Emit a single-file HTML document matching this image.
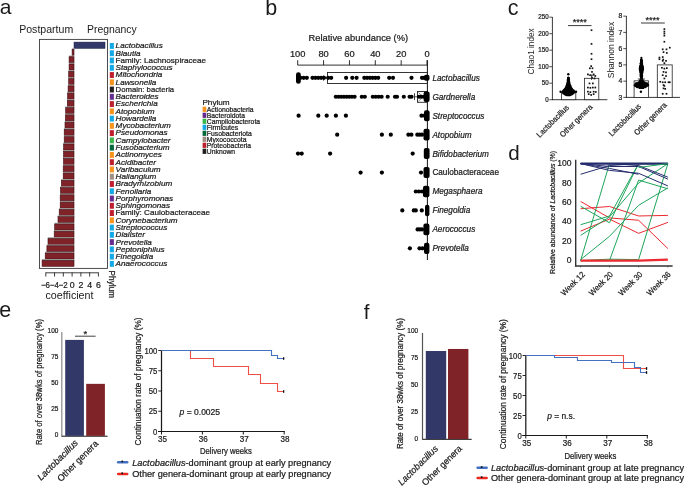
<!DOCTYPE html>
<html><head><meta charset="utf-8"><style>
html,body{margin:0;padding:0;background:#fff;overflow:hidden;width:685px;height:486px;}
svg{display:block;will-change:transform;}
text{font-family:"Liberation Sans",sans-serif;fill:#1a1a1a;}
.s{stroke:#1a1a1a;stroke-width:0.22px;}
</style></head><body>
<svg width="685" height="486" viewBox="0 0 685 486">
<rect width="685" height="486" fill="#fff"/>
<text x="-0.2" y="14.3" font-size="21" fill="#111">a</text>
<text x="265.3" y="14.7" font-size="21.5" fill="#111">b</text>
<text x="507.8" y="14.9" font-size="21.5" fill="#111">c</text>
<text x="508.3" y="159.9" font-size="20.6" fill="#111">d</text>
<text x="-0.8" y="317.1" font-size="21.5" fill="#111">e</text>
<text x="363.8" y="318.6" font-size="20.6" fill="#111">f</text>
<text x="19.2" y="33" font-size="10.4" textLength="54" lengthAdjust="spacingAndGlyphs">Postpartum</text>
<text x="87" y="32.9" font-size="10.4" textLength="49.8" lengthAdjust="spacingAndGlyphs">Pregnancy</text>
<rect x="74" y="42.1" width="31" height="6.3" fill="#323868" stroke="#1b1f40" stroke-width="0.5"/>
<rect x="71.9" y="48.27" width="2.5" height="1" fill="#9a9a9a"/>
<rect x="72.1" y="49.47" width="1.9" height="6" fill="#802328" stroke="#3a0c10" stroke-width="0.6"/>
<rect x="68.9" y="55.54" width="5.5" height="1" fill="#9a9a9a"/>
<rect x="69.1" y="56.74" width="4.9" height="6" fill="#802328" stroke="#3a0c10" stroke-width="0.6"/>
<rect x="68.9" y="62.81" width="5.5" height="1" fill="#9a9a9a"/>
<rect x="69.1" y="64.01" width="4.9" height="6" fill="#802328" stroke="#3a0c10" stroke-width="0.6"/>
<rect x="68.5" y="70.08" width="5.9" height="1" fill="#9a9a9a"/>
<rect x="68.7" y="71.28" width="5.3" height="6" fill="#802328" stroke="#3a0c10" stroke-width="0.6"/>
<rect x="68.5" y="77.35" width="5.9" height="1" fill="#9a9a9a"/>
<rect x="68.7" y="78.55" width="5.3" height="6" fill="#802328" stroke="#3a0c10" stroke-width="0.6"/>
<rect x="67.9" y="84.62" width="6.5" height="1" fill="#9a9a9a"/>
<rect x="68.1" y="85.82" width="5.9" height="6" fill="#802328" stroke="#3a0c10" stroke-width="0.6"/>
<rect x="67.4" y="91.89" width="7" height="1" fill="#9a9a9a"/>
<rect x="67.6" y="93.09" width="6.4" height="6" fill="#802328" stroke="#3a0c10" stroke-width="0.6"/>
<rect x="67.1" y="99.16" width="7.3" height="1" fill="#9a9a9a"/>
<rect x="67.3" y="100.36" width="6.7" height="6" fill="#802328" stroke="#3a0c10" stroke-width="0.6"/>
<rect x="65.5" y="106.43" width="8.9" height="1" fill="#9a9a9a"/>
<rect x="65.7" y="107.63" width="8.3" height="6" fill="#802328" stroke="#3a0c10" stroke-width="0.6"/>
<rect x="65.2" y="113.7" width="9.2" height="1" fill="#9a9a9a"/>
<rect x="65.4" y="114.9" width="8.6" height="6" fill="#802328" stroke="#3a0c10" stroke-width="0.6"/>
<rect x="64.8" y="120.97" width="9.6" height="1" fill="#9a9a9a"/>
<rect x="65" y="122.17" width="9" height="6" fill="#802328" stroke="#3a0c10" stroke-width="0.6"/>
<rect x="64" y="128.24" width="10.4" height="1" fill="#9a9a9a"/>
<rect x="64.2" y="129.44" width="9.8" height="6" fill="#802328" stroke="#3a0c10" stroke-width="0.6"/>
<rect x="64" y="135.51" width="10.4" height="1" fill="#9a9a9a"/>
<rect x="64.2" y="136.71" width="9.8" height="6" fill="#802328" stroke="#3a0c10" stroke-width="0.6"/>
<rect x="63.4" y="142.78" width="11" height="1" fill="#9a9a9a"/>
<rect x="63.6" y="143.98" width="10.4" height="6" fill="#802328" stroke="#3a0c10" stroke-width="0.6"/>
<rect x="63.3" y="150.05" width="11.1" height="1" fill="#9a9a9a"/>
<rect x="63.5" y="151.25" width="10.5" height="6" fill="#802328" stroke="#3a0c10" stroke-width="0.6"/>
<rect x="63.3" y="157.32" width="11.1" height="1" fill="#9a9a9a"/>
<rect x="63.5" y="158.52" width="10.5" height="6" fill="#802328" stroke="#3a0c10" stroke-width="0.6"/>
<rect x="63" y="164.59" width="11.4" height="1" fill="#9a9a9a"/>
<rect x="63.2" y="165.79" width="10.8" height="6" fill="#802328" stroke="#3a0c10" stroke-width="0.6"/>
<rect x="63" y="171.86" width="11.4" height="1" fill="#9a9a9a"/>
<rect x="63.2" y="173.06" width="10.8" height="6" fill="#802328" stroke="#3a0c10" stroke-width="0.6"/>
<rect x="61.2" y="179.13" width="13.2" height="1" fill="#9a9a9a"/>
<rect x="61.4" y="180.33" width="12.6" height="6" fill="#802328" stroke="#3a0c10" stroke-width="0.6"/>
<rect x="60.3" y="186.4" width="14.1" height="1" fill="#9a9a9a"/>
<rect x="60.5" y="187.6" width="13.5" height="6" fill="#802328" stroke="#3a0c10" stroke-width="0.6"/>
<rect x="60" y="193.67" width="14.4" height="1" fill="#9a9a9a"/>
<rect x="60.2" y="194.87" width="13.8" height="6" fill="#802328" stroke="#3a0c10" stroke-width="0.6"/>
<rect x="60" y="200.94" width="14.4" height="1" fill="#9a9a9a"/>
<rect x="60.2" y="202.14" width="13.8" height="6" fill="#802328" stroke="#3a0c10" stroke-width="0.6"/>
<rect x="59" y="208.21" width="15.4" height="1" fill="#9a9a9a"/>
<rect x="59.2" y="209.41" width="14.8" height="6" fill="#802328" stroke="#3a0c10" stroke-width="0.6"/>
<rect x="57.8" y="215.48" width="16.6" height="1" fill="#9a9a9a"/>
<rect x="58" y="216.68" width="16" height="6" fill="#802328" stroke="#3a0c10" stroke-width="0.6"/>
<rect x="54.5" y="222.75" width="19.9" height="1" fill="#9a9a9a"/>
<rect x="54.7" y="223.95" width="19.3" height="6" fill="#802328" stroke="#3a0c10" stroke-width="0.6"/>
<rect x="54" y="230.02" width="20.4" height="1" fill="#9a9a9a"/>
<rect x="54.2" y="231.22" width="19.8" height="6" fill="#802328" stroke="#3a0c10" stroke-width="0.6"/>
<rect x="47.8" y="237.29" width="26.6" height="1" fill="#9a9a9a"/>
<rect x="48" y="238.49" width="26" height="6" fill="#802328" stroke="#3a0c10" stroke-width="0.6"/>
<rect x="46.7" y="244.56" width="27.7" height="1" fill="#9a9a9a"/>
<rect x="46.9" y="245.76" width="27.1" height="6" fill="#802328" stroke="#3a0c10" stroke-width="0.6"/>
<rect x="45" y="251.83" width="29.4" height="1" fill="#9a9a9a"/>
<rect x="45.2" y="253.03" width="28.8" height="6" fill="#802328" stroke="#3a0c10" stroke-width="0.6"/>
<rect x="41.9" y="259.1" width="32.5" height="1" fill="#9a9a9a"/>
<rect x="42.1" y="260.3" width="31.9" height="6" fill="#802328" stroke="#3a0c10" stroke-width="0.6"/>
<rect x="39.5" y="39.4" width="68" height="229" fill="none" stroke="#3a3a3a" stroke-width="0.9"/>
<rect x="109.8" y="43" width="4.1" height="5.9" fill="#12a9e6"/>
<text x="115.6" y="48.25" font-size="8" font-style="italic" textLength="47.12" lengthAdjust="spacingAndGlyphs" class="s">Lactobacillus</text>
<rect x="109.8" y="50.27" width="4.1" height="5.9" fill="#12a9e6"/>
<text x="115.6" y="55.52" font-size="8" font-style="italic" textLength="24.92" lengthAdjust="spacingAndGlyphs" class="s">Blautia</text>
<rect x="109.8" y="57.53" width="4.1" height="5.9" fill="#12a9e6"/>
<text x="115.6" y="62.79" font-size="8" textLength="90.49" lengthAdjust="spacingAndGlyphs" class="s">Family: Lachnospiraceae</text>
<rect x="109.8" y="64.8" width="4.1" height="5.9" fill="#12a9e6"/>
<text x="115.6" y="70.06" font-size="8" font-style="italic" textLength="57.08" lengthAdjust="spacingAndGlyphs" class="s">Staphylococcus</text>
<rect x="109.8" y="72.06" width="4.1" height="5.9" fill="#be1e2d"/>
<text x="115.6" y="77.33" font-size="8" font-style="italic" textLength="46.66" lengthAdjust="spacingAndGlyphs" class="s">Mitochondria</text>
<rect x="109.8" y="79.32" width="4.1" height="5.9" fill="#f7941d"/>
<text x="115.6" y="84.6" font-size="8" font-style="italic" textLength="40.78" lengthAdjust="spacingAndGlyphs" class="s">Lawsonella</text>
<rect x="109.8" y="86.59" width="4.1" height="5.9" fill="#231f20"/>
<text x="115.6" y="91.87" font-size="8" textLength="58.58" lengthAdjust="spacingAndGlyphs" class="s">Domain: bacteria</text>
<rect x="109.8" y="93.85" width="4.1" height="5.9" fill="#662d91"/>
<text x="115.6" y="99.14" font-size="8" font-style="italic" textLength="43.04" lengthAdjust="spacingAndGlyphs" class="s">Bacteroides</text>
<rect x="109.8" y="101.12" width="4.1" height="5.9" fill="#be1e2d"/>
<text x="115.6" y="106.41" font-size="8" font-style="italic" textLength="42.13" lengthAdjust="spacingAndGlyphs" class="s">Escherichia</text>
<rect x="109.8" y="108.38" width="4.1" height="5.9" fill="#f7941d"/>
<text x="115.6" y="113.68" font-size="8" font-style="italic" textLength="38.96" lengthAdjust="spacingAndGlyphs" class="s">Atopobium</text>
<rect x="109.8" y="115.65" width="4.1" height="5.9" fill="#12a9e6"/>
<text x="115.6" y="120.95" font-size="8" font-style="italic" textLength="40.77" lengthAdjust="spacingAndGlyphs" class="s">Howardella</text>
<rect x="109.8" y="122.91" width="4.1" height="5.9" fill="#f7941d"/>
<text x="115.6" y="128.22" font-size="8" font-style="italic" textLength="55.26" lengthAdjust="spacingAndGlyphs" class="s">Mycobacterium</text>
<rect x="109.8" y="130.18" width="4.1" height="5.9" fill="#be1e2d"/>
<text x="115.6" y="135.49" font-size="8" font-style="italic" textLength="52.1" lengthAdjust="spacingAndGlyphs" class="s">Pseudomonas</text>
<rect x="109.8" y="137.44" width="4.1" height="5.9" fill="#39b54a"/>
<text x="115.6" y="142.76" font-size="8" font-style="italic" textLength="54.81" lengthAdjust="spacingAndGlyphs" class="s">Campylobacter</text>
<rect x="109.8" y="144.71" width="4.1" height="5.9" fill="#00693a"/>
<text x="115.6" y="150.03" font-size="8" font-style="italic" textLength="53.9" lengthAdjust="spacingAndGlyphs" class="s">Fusobacterium</text>
<rect x="109.8" y="151.97" width="4.1" height="5.9" fill="#f7941d"/>
<text x="115.6" y="157.3" font-size="8" font-style="italic" textLength="46.2" lengthAdjust="spacingAndGlyphs" class="s">Actinomyces</text>
<rect x="109.8" y="159.24" width="4.1" height="5.9" fill="#be1e2d"/>
<text x="115.6" y="164.57" font-size="8" font-style="italic" textLength="40.32" lengthAdjust="spacingAndGlyphs" class="s">Acidibacter</text>
<rect x="109.8" y="166.5" width="4.1" height="5.9" fill="#f7941d"/>
<text x="115.6" y="171.84" font-size="8" font-style="italic" textLength="45" lengthAdjust="spacingAndGlyphs" class="s">Varibaculum</text>
<rect x="109.8" y="173.77" width="4.1" height="5.9" fill="#a08f84"/>
<text x="115.6" y="179.11" font-size="8" font-style="italic" textLength="40.77" lengthAdjust="spacingAndGlyphs" class="s">Haliangium</text>
<rect x="109.8" y="181.03" width="4.1" height="5.9" fill="#be1e2d"/>
<text x="115.6" y="186.38" font-size="8" font-style="italic" textLength="56.62" lengthAdjust="spacingAndGlyphs" class="s">Bradyrhizobium</text>
<rect x="109.8" y="188.3" width="4.1" height="5.9" fill="#12a9e6"/>
<text x="115.6" y="193.65" font-size="8" font-style="italic" textLength="35.79" lengthAdjust="spacingAndGlyphs" class="s">Fenollaria</text>
<rect x="109.8" y="195.56" width="4.1" height="5.9" fill="#662d91"/>
<text x="115.6" y="200.92" font-size="8" font-style="italic" textLength="57.53" lengthAdjust="spacingAndGlyphs" class="s">Porphyromonas</text>
<rect x="109.8" y="202.83" width="4.1" height="5.9" fill="#be1e2d"/>
<text x="115.6" y="208.19" font-size="8" font-style="italic" textLength="54.37" lengthAdjust="spacingAndGlyphs" class="s">Sphingomonas</text>
<rect x="109.8" y="210.09" width="4.1" height="5.9" fill="#be1e2d"/>
<text x="115.6" y="215.46" font-size="8" textLength="94.56" lengthAdjust="spacingAndGlyphs" class="s">Family: Caulobacteraceae</text>
<rect x="109.8" y="217.36" width="4.1" height="5.9" fill="#f7941d"/>
<text x="115.6" y="222.73" font-size="8" font-style="italic" textLength="62.06" lengthAdjust="spacingAndGlyphs" class="s">Corynebacterium</text>
<rect x="109.8" y="224.62" width="4.1" height="5.9" fill="#12a9e6"/>
<text x="115.6" y="230" font-size="8" font-style="italic" textLength="51.64" lengthAdjust="spacingAndGlyphs" class="s">Streptococcus</text>
<rect x="109.8" y="231.89" width="4.1" height="5.9" fill="#12a9e6"/>
<text x="115.6" y="237.27" font-size="8" font-style="italic" textLength="29.44" lengthAdjust="spacingAndGlyphs" class="s">Dialister</text>
<rect x="109.8" y="239.16" width="4.1" height="5.9" fill="#662d91"/>
<text x="115.6" y="244.54" font-size="8" font-style="italic" textLength="36.24" lengthAdjust="spacingAndGlyphs" class="s">Prevotella</text>
<rect x="109.8" y="246.42" width="4.1" height="5.9" fill="#12a9e6"/>
<text x="115.6" y="251.81" font-size="8" font-style="italic" textLength="48.94" lengthAdjust="spacingAndGlyphs" class="s">Peptoniphilus</text>
<rect x="109.8" y="253.69" width="4.1" height="5.9" fill="#12a9e6"/>
<text x="115.6" y="259.08" font-size="8" font-style="italic" textLength="37.61" lengthAdjust="spacingAndGlyphs" class="s">Finegoldia</text>
<rect x="109.8" y="260.95" width="4.1" height="5.9" fill="#12a9e6"/>
<text x="115.6" y="266.35" font-size="8" font-style="italic" textLength="51.65" lengthAdjust="spacingAndGlyphs" class="s">Anaerococcus</text>
<line x1="45.8" y1="272.8" x2="98.4" y2="272.8" stroke="#2a2a2a" stroke-width="0.9"/>
<line x1="45.8" y1="272.4" x2="45.8" y2="276.6" stroke="#2a2a2a" stroke-width="0.9"/>
<line x1="54.57" y1="272.4" x2="54.57" y2="276.6" stroke="#2a2a2a" stroke-width="0.9"/>
<line x1="63.34" y1="272.4" x2="63.34" y2="276.6" stroke="#2a2a2a" stroke-width="0.9"/>
<line x1="72.11" y1="272.4" x2="72.11" y2="276.6" stroke="#2a2a2a" stroke-width="0.9"/>
<line x1="80.88" y1="272.4" x2="80.88" y2="276.6" stroke="#2a2a2a" stroke-width="0.9"/>
<line x1="89.65" y1="272.4" x2="89.65" y2="276.6" stroke="#2a2a2a" stroke-width="0.9"/>
<line x1="98.42" y1="272.4" x2="98.42" y2="276.6" stroke="#2a2a2a" stroke-width="0.9"/>
<text x="45.5" y="287.7" font-size="8.8" text-anchor="middle" textLength="9" lengthAdjust="spacingAndGlyphs" class="s">−6</text>
<text x="54.27" y="287.7" font-size="8.8" text-anchor="middle" textLength="9" lengthAdjust="spacingAndGlyphs" class="s">−4</text>
<text x="63.04" y="287.7" font-size="8.8" text-anchor="middle" textLength="9" lengthAdjust="spacingAndGlyphs" class="s">−2</text>
<text x="72.11" y="287.7" font-size="8.8" text-anchor="middle" textLength="4.9" lengthAdjust="spacingAndGlyphs" class="s">0</text>
<text x="80.88" y="287.7" font-size="8.8" text-anchor="middle" textLength="4.9" lengthAdjust="spacingAndGlyphs" class="s">2</text>
<text x="89.65" y="287.7" font-size="8.8" text-anchor="middle" textLength="4.9" lengthAdjust="spacingAndGlyphs" class="s">4</text>
<text x="98.42" y="287.7" font-size="8.8" text-anchor="middle" textLength="4.9" lengthAdjust="spacingAndGlyphs" class="s">6</text>
<text x="45.5" y="299.3" font-size="10" textLength="48" lengthAdjust="spacingAndGlyphs">coefficient</text>
<text x="108.6" y="270.6" font-size="8.2" textLength="27.5" lengthAdjust="spacingAndGlyphs" class="s" transform="rotate(90 108.6 270.6)">Phylum</text>
<text x="202.4" y="104.6" font-size="8.1" textLength="27.3" lengthAdjust="spacingAndGlyphs" class="s">Phylum</text>
<rect x="202.6" y="106.7" width="3.7" height="5.2" fill="#f7941d"/>
<text x="206.8" y="111.6" font-size="6.6" textLength="46.86" lengthAdjust="spacingAndGlyphs" class="s">Actionobacteria</text>
<rect x="202.6" y="112.7" width="3.7" height="5.2" fill="#662d91"/>
<text x="206.8" y="117.6" font-size="6.6" textLength="38.17" lengthAdjust="spacingAndGlyphs" class="s">Bacteroidota</text>
<rect x="202.6" y="118.7" width="3.7" height="5.2" fill="#39b54a"/>
<text x="206.8" y="123.6" font-size="6.6" textLength="53.28" lengthAdjust="spacingAndGlyphs" class="s">Campilobacterota</text>
<rect x="202.6" y="124.7" width="3.7" height="5.2" fill="#12a9e6"/>
<text x="206.8" y="129.6" font-size="6.6" textLength="31.35" lengthAdjust="spacingAndGlyphs" class="s">Firmicutes</text>
<rect x="202.6" y="130.7" width="3.7" height="5.2" fill="#00693a"/>
<text x="206.8" y="135.6" font-size="6.6" textLength="44.97" lengthAdjust="spacingAndGlyphs" class="s">Fusobacteriota</text>
<rect x="202.6" y="136.7" width="3.7" height="5.2" fill="#a08f84"/>
<text x="206.8" y="141.6" font-size="6.6" textLength="39.67" lengthAdjust="spacingAndGlyphs" class="s">Myxococcota</text>
<rect x="202.6" y="142.7" width="3.7" height="5.2" fill="#be1e2d"/>
<text x="206.8" y="147.6" font-size="6.6" textLength="44.21" lengthAdjust="spacingAndGlyphs" class="s">Proteobacteria</text>
<rect x="202.6" y="148.7" width="3.7" height="5.2" fill="#231f20"/>
<text x="206.8" y="153.6" font-size="6.6" textLength="28.34" lengthAdjust="spacingAndGlyphs" class="s">Unknown</text>
<text x="308.6" y="41.3" font-size="9.3" textLength="99.5" lengthAdjust="spacingAndGlyphs" class="s">Relative abundance (%)</text>
<line x1="297.7" y1="65.1" x2="427.2" y2="65.1" stroke="#1a1a1a" stroke-width="0.9"/>
<line x1="297.7" y1="60.2" x2="297.7" y2="65.1" stroke="#1a1a1a" stroke-width="0.9"/>
<text x="297.7" y="57.2" font-size="9.3" text-anchor="middle" class="s">100</text>
<line x1="323.57" y1="60.2" x2="323.57" y2="65.1" stroke="#1a1a1a" stroke-width="0.9"/>
<text x="323.57" y="57.2" font-size="9.3" text-anchor="middle" class="s">80</text>
<line x1="349.44" y1="60.2" x2="349.44" y2="65.1" stroke="#1a1a1a" stroke-width="0.9"/>
<text x="349.44" y="57.2" font-size="9.3" text-anchor="middle" class="s">60</text>
<line x1="375.31" y1="60.2" x2="375.31" y2="65.1" stroke="#1a1a1a" stroke-width="0.9"/>
<text x="375.31" y="57.2" font-size="9.3" text-anchor="middle" class="s">40</text>
<line x1="401.18" y1="60.2" x2="401.18" y2="65.1" stroke="#1a1a1a" stroke-width="0.9"/>
<text x="401.18" y="57.2" font-size="9.3" text-anchor="middle" class="s">20</text>
<line x1="427.05" y1="60.2" x2="427.05" y2="65.1" stroke="#1a1a1a" stroke-width="0.9"/>
<text x="427.05" y="57.2" font-size="9.3" text-anchor="middle" class="s">0</text>
<line x1="427.4" y1="60.2" x2="427.4" y2="260" stroke="#111" stroke-width="1"/>
<rect x="327.5" y="72.5" width="99.9" height="11" fill="none" stroke="#222" stroke-width="0.9"/>
<rect x="417.5" y="91.5" width="10" height="10.8" fill="none" stroke="#222" stroke-width="0.9"/>
<line x1="323.6" y1="75.3" x2="323.6" y2="80.7" stroke="#222" stroke-width="0.9"/>
<line x1="323.6" y1="78" x2="327.3" y2="78" stroke="#222" stroke-width="0.8"/>
<line x1="414.5" y1="93.3" x2="414.5" y2="99.9" stroke="#222" stroke-width="0.9"/>
<line x1="414.5" y1="96.8" x2="417.1" y2="96.8" stroke="#222" stroke-width="0.8"/>
<path d="M418.5,92.5 L423,96.8 L418.5,101.2" stroke="#333" stroke-width="0.6" fill="none"/>
<rect x="296.0" y="72.2" width="4.8" height="11.6" rx="2.4" fill="#000"/>
<circle cx="300.5" cy="77.8" r="2.1" fill="#000"/>
<circle cx="303.65" cy="77.8" r="2.1" fill="#000"/>
<circle cx="306.8" cy="77.8" r="2.1" fill="#000"/>
<circle cx="312.5" cy="77.8" r="2.1" fill="#000"/>
<circle cx="315.38" cy="77.8" r="2.1" fill="#000"/>
<circle cx="318.25" cy="77.8" r="2.1" fill="#000"/>
<circle cx="321.12" cy="77.8" r="2.1" fill="#000"/>
<circle cx="324" cy="77.8" r="2.1" fill="#000"/>
<circle cx="328.2" cy="77.8" r="2.1" fill="#000"/>
<circle cx="331.2" cy="77.8" r="2.1" fill="#000"/>
<circle cx="346.1" cy="77.8" r="2.1" fill="#000"/>
<circle cx="352.3" cy="77.8" r="2.1" fill="#000"/>
<circle cx="356.6" cy="77.8" r="2.1" fill="#000"/>
<circle cx="364.3" cy="77.8" r="2.1" fill="#000"/>
<circle cx="367.08" cy="77.8" r="2.1" fill="#000"/>
<circle cx="369.86" cy="77.8" r="2.1" fill="#000"/>
<circle cx="372.64" cy="77.8" r="2.1" fill="#000"/>
<circle cx="375.42" cy="77.8" r="2.1" fill="#000"/>
<circle cx="378.2" cy="77.8" r="2.1" fill="#000"/>
<circle cx="389.2" cy="77.8" r="2.1" fill="#000"/>
<circle cx="393" cy="77.8" r="2.1" fill="#000"/>
<circle cx="411.5" cy="77.8" r="2.1" fill="#000"/>
<circle cx="422" cy="77.8" r="2.1" fill="#000"/>
<circle cx="424" cy="77.8" r="2.1" fill="#000"/>
<circle cx="426" cy="77.8" r="2.1" fill="#000"/>
<rect x="424" y="74.8" width="5.5" height="6" rx="2" fill="#000"/>
<circle cx="335.8" cy="96.75" r="2.1" fill="#000"/>
<circle cx="338.49" cy="96.75" r="2.1" fill="#000"/>
<circle cx="341.17" cy="96.75" r="2.1" fill="#000"/>
<circle cx="343.86" cy="96.75" r="2.1" fill="#000"/>
<circle cx="346.54" cy="96.75" r="2.1" fill="#000"/>
<circle cx="349.23" cy="96.75" r="2.1" fill="#000"/>
<circle cx="351.91" cy="96.75" r="2.1" fill="#000"/>
<circle cx="354.6" cy="96.75" r="2.1" fill="#000"/>
<circle cx="361.8" cy="96.75" r="2.1" fill="#000"/>
<circle cx="364.8" cy="96.75" r="2.1" fill="#000"/>
<circle cx="372.8" cy="96.75" r="2.1" fill="#000"/>
<circle cx="375.73" cy="96.75" r="2.1" fill="#000"/>
<circle cx="378.67" cy="96.75" r="2.1" fill="#000"/>
<circle cx="381.6" cy="96.75" r="2.1" fill="#000"/>
<circle cx="387.7" cy="96.75" r="2.1" fill="#000"/>
<circle cx="395" cy="96.75" r="2.1" fill="#000"/>
<circle cx="397" cy="96.75" r="2.1" fill="#000"/>
<circle cx="403.8" cy="96.75" r="2.1" fill="#000"/>
<circle cx="409.6" cy="96.75" r="2.1" fill="#000"/>
<circle cx="411.5" cy="96.75" r="2.1" fill="#000"/>
<circle cx="419" cy="96.75" r="2.1" fill="#000"/>
<circle cx="421.5" cy="96.75" r="2.1" fill="#000"/>
<circle cx="424" cy="96.75" r="2.1" fill="#000"/>
<rect x="423.6" y="91.5" width="6" height="10.5" rx="2" fill="#000"/>
<circle cx="298.6" cy="115.7" r="2.1" fill="#000"/>
<circle cx="318.3" cy="115.7" r="2.1" fill="#000"/>
<circle cx="326.7" cy="115.7" r="2.1" fill="#000"/>
<circle cx="335.9" cy="115.7" r="2.1" fill="#000"/>
<circle cx="345.9" cy="115.7" r="2.1" fill="#000"/>
<circle cx="421.5" cy="115.7" r="2.1" fill="#000"/>
<circle cx="424.5" cy="115.7" r="2.1" fill="#000"/>
<rect x="424" y="110.2" width="5.6" height="11" rx="2" fill="#000"/>
<circle cx="337.2" cy="134.65" r="2.1" fill="#000"/>
<circle cx="381.9" cy="134.65" r="2.1" fill="#000"/>
<circle cx="390.8" cy="134.65" r="2.1" fill="#000"/>
<circle cx="408.4" cy="134.65" r="2.1" fill="#000"/>
<circle cx="411.4" cy="134.65" r="2.1" fill="#000"/>
<circle cx="417.3" cy="134.65" r="2.1" fill="#000"/>
<circle cx="419.65" cy="134.65" r="2.1" fill="#000"/>
<circle cx="422" cy="134.65" r="2.1" fill="#000"/>
<rect x="423.5" y="128.75" width="6.1" height="11.8" rx="2" fill="#000"/>
<circle cx="298" cy="153.6" r="2.1" fill="#000"/>
<circle cx="301.7" cy="153.6" r="2.1" fill="#000"/>
<circle cx="330.1" cy="153.6" r="2.1" fill="#000"/>
<circle cx="412.7" cy="153.6" r="2.1" fill="#000"/>
<rect x="423.8" y="148.1" width="5.8" height="11" rx="2" fill="#000"/>
<circle cx="360.6" cy="172.55" r="2.1" fill="#000"/>
<circle cx="381.9" cy="172.55" r="2.1" fill="#000"/>
<circle cx="421" cy="172.55" r="2.1" fill="#000"/>
<rect x="423.5" y="167" width="6.1" height="11.1" rx="2" fill="#000"/>
<circle cx="415.8" cy="191.5" r="2.1" fill="#000"/>
<circle cx="418.9" cy="191.5" r="2.1" fill="#000"/>
<circle cx="422" cy="191.5" r="2.1" fill="#000"/>
<rect x="423" y="185.7" width="6.4" height="11.6" rx="2" fill="#000"/>
<circle cx="402.3" cy="210.45" r="2.1" fill="#000"/>
<circle cx="421.8" cy="210.45" r="2.1" fill="#000"/>
<circle cx="413.8" cy="210.45" r="2.1" fill="#000"/>
<circle cx="415.8" cy="210.45" r="2.1" fill="#000"/>
<rect x="425" y="204.65" width="4.4" height="11.6" rx="2" fill="#000"/>
<circle cx="417.6" cy="229.4" r="2.1" fill="#000"/>
<circle cx="419.8" cy="229.4" r="2.1" fill="#000"/>
<circle cx="422" cy="229.4" r="2.1" fill="#000"/>
<rect x="423.4" y="223.6" width="6" height="11.6" rx="2" fill="#000"/>
<circle cx="409.9" cy="248.35" r="2.1" fill="#000"/>
<circle cx="419.5" cy="248.35" r="2.1" fill="#000"/>
<circle cx="422.5" cy="248.35" r="2.1" fill="#000"/>
<rect x="424" y="242.65" width="5.4" height="11.4" rx="2" fill="#000"/>
<text x="432.4" y="80.7" font-size="8.2" font-style="italic" textLength="47.41" lengthAdjust="spacingAndGlyphs" class="s">Lactobacillus</text>
<text x="432.4" y="99.65" font-size="8.2" font-style="italic" textLength="42.85" lengthAdjust="spacingAndGlyphs" class="s">Gardnerella</text>
<text x="432.4" y="118.6" font-size="8.2" font-style="italic" textLength="51.96" lengthAdjust="spacingAndGlyphs" class="s">Streptococcus</text>
<text x="432.4" y="137.55" font-size="8.2" font-style="italic" textLength="39.2" lengthAdjust="spacingAndGlyphs" class="s">Atopobium</text>
<text x="432.4" y="156.5" font-size="8.2" font-style="italic" textLength="56.52" lengthAdjust="spacingAndGlyphs" class="s">Bifidobacterium</text>
<text x="432.4" y="175.45" font-size="8.2" textLength="66.56" lengthAdjust="spacingAndGlyphs" class="s">Caulobacteraceae</text>
<text x="432.4" y="194.4" font-size="8.2" font-style="italic" textLength="50.15" lengthAdjust="spacingAndGlyphs" class="s">Megasphaera</text>
<text x="432.4" y="213.35" font-size="8.2" font-style="italic" textLength="37.84" lengthAdjust="spacingAndGlyphs" class="s">Finegoldia</text>
<text x="432.4" y="232.3" font-size="8.2" font-style="italic" textLength="42.84" lengthAdjust="spacingAndGlyphs" class="s">Aerococcus</text>
<text x="432.4" y="251.25" font-size="8.2" font-style="italic" textLength="36.46" lengthAdjust="spacingAndGlyphs" class="s">Prevotella</text>
<line x1="552.4" y1="17" x2="552.4" y2="100.1" stroke="#222" stroke-width="0.9"/>
<line x1="552" y1="99.7" x2="607.4" y2="99.7" stroke="#222" stroke-width="0.9"/>
<line x1="549.3" y1="99.7" x2="552.4" y2="99.7" stroke="#222" stroke-width="0.8"/>
<text x="548.6" y="101.9" font-size="6.4" text-anchor="end" textLength="3.45" lengthAdjust="spacingAndGlyphs" class="s">0</text>
<line x1="549.3" y1="83.2" x2="552.4" y2="83.2" stroke="#222" stroke-width="0.8"/>
<text x="548.6" y="85.4" font-size="6.4" text-anchor="end" textLength="6.9" lengthAdjust="spacingAndGlyphs" class="s">50</text>
<line x1="549.3" y1="66.7" x2="552.4" y2="66.7" stroke="#222" stroke-width="0.8"/>
<text x="548.6" y="68.9" font-size="6.4" text-anchor="end" textLength="10.35" lengthAdjust="spacingAndGlyphs" class="s">100</text>
<line x1="549.3" y1="50.2" x2="552.4" y2="50.2" stroke="#222" stroke-width="0.8"/>
<text x="548.6" y="52.4" font-size="6.4" text-anchor="end" textLength="10.35" lengthAdjust="spacingAndGlyphs" class="s">150</text>
<line x1="549.3" y1="33.7" x2="552.4" y2="33.7" stroke="#222" stroke-width="0.8"/>
<text x="548.6" y="35.9" font-size="6.4" text-anchor="end" textLength="10.35" lengthAdjust="spacingAndGlyphs" class="s">200</text>
<line x1="549.3" y1="17.2" x2="552.4" y2="17.2" stroke="#222" stroke-width="0.8"/>
<text x="548.6" y="19.4" font-size="6.4" text-anchor="end" textLength="10.35" lengthAdjust="spacingAndGlyphs" class="s">250</text>
<text x="534.2" y="51.4" font-size="9.6" text-anchor="middle" textLength="46" lengthAdjust="spacingAndGlyphs" transform="rotate(-90 534.2 51.4)">Chao1 index</text>
<rect x="561.4" y="92.11" width="14.4" height="7.59" fill="#fff" stroke="#222" stroke-width="0.8"/>
<rect x="584.4" y="78.3" width="14.4" height="21.4" fill="#fff" stroke="#222" stroke-width="0.8"/>
<circle cx="568.24" cy="78" r="1.25" fill="#000"/>
<circle cx="568.43" cy="78" r="1.25" fill="#000"/>
<circle cx="568.32" cy="78" r="1.25" fill="#000"/>
<circle cx="568.37" cy="78.9" r="1.25" fill="#000"/>
<circle cx="568.48" cy="78.9" r="1.25" fill="#000"/>
<circle cx="568.23" cy="78.9" r="1.25" fill="#000"/>
<circle cx="567.93" cy="79.8" r="1.25" fill="#000"/>
<circle cx="568.6" cy="79.8" r="1.25" fill="#000"/>
<circle cx="568.44" cy="79.8" r="1.25" fill="#000"/>
<circle cx="567.97" cy="80.7" r="1.25" fill="#000"/>
<circle cx="568.7" cy="80.7" r="1.25" fill="#000"/>
<circle cx="568.65" cy="80.7" r="1.25" fill="#000"/>
<circle cx="568.22" cy="81.6" r="1.25" fill="#000"/>
<circle cx="568.39" cy="81.6" r="1.25" fill="#000"/>
<circle cx="568.86" cy="81.6" r="1.25" fill="#000"/>
<circle cx="567.69" cy="82.5" r="1.25" fill="#000"/>
<circle cx="568.48" cy="82.5" r="1.25" fill="#000"/>
<circle cx="569.12" cy="82.5" r="1.25" fill="#000"/>
<circle cx="567.79" cy="83.4" r="1.25" fill="#000"/>
<circle cx="568.54" cy="83.4" r="1.25" fill="#000"/>
<circle cx="569.12" cy="83.4" r="1.25" fill="#000"/>
<circle cx="567.31" cy="84.3" r="1.25" fill="#000"/>
<circle cx="568.55" cy="84.3" r="1.25" fill="#000"/>
<circle cx="569.28" cy="84.3" r="1.25" fill="#000"/>
<circle cx="567.06" cy="85.2" r="1.25" fill="#000"/>
<circle cx="568.12" cy="85.2" r="1.25" fill="#000"/>
<circle cx="569.84" cy="85.2" r="1.25" fill="#000"/>
<circle cx="566.77" cy="86.1" r="1.25" fill="#000"/>
<circle cx="568.53" cy="86.1" r="1.25" fill="#000"/>
<circle cx="570.24" cy="86.1" r="1.25" fill="#000"/>
<circle cx="566.53" cy="87" r="1.25" fill="#000"/>
<circle cx="567.65" cy="87" r="1.25" fill="#000"/>
<circle cx="568.34" cy="87" r="1.25" fill="#000"/>
<circle cx="569.58" cy="87" r="1.25" fill="#000"/>
<circle cx="570.37" cy="87" r="1.25" fill="#000"/>
<circle cx="566.01" cy="87.9" r="1.25" fill="#000"/>
<circle cx="567.3" cy="87.9" r="1.25" fill="#000"/>
<circle cx="568.16" cy="87.9" r="1.25" fill="#000"/>
<circle cx="569.51" cy="87.9" r="1.25" fill="#000"/>
<circle cx="570.88" cy="87.9" r="1.25" fill="#000"/>
<circle cx="565.38" cy="88.8" r="1.25" fill="#000"/>
<circle cx="566.16" cy="88.8" r="1.25" fill="#000"/>
<circle cx="567.38" cy="88.8" r="1.25" fill="#000"/>
<circle cx="568.28" cy="88.8" r="1.25" fill="#000"/>
<circle cx="569.5" cy="88.8" r="1.25" fill="#000"/>
<circle cx="570.53" cy="88.8" r="1.25" fill="#000"/>
<circle cx="571.61" cy="88.8" r="1.25" fill="#000"/>
<circle cx="564.47" cy="89.7" r="1.25" fill="#000"/>
<circle cx="565.47" cy="89.7" r="1.25" fill="#000"/>
<circle cx="566.65" cy="89.7" r="1.25" fill="#000"/>
<circle cx="567.51" cy="89.7" r="1.25" fill="#000"/>
<circle cx="568.66" cy="89.7" r="1.25" fill="#000"/>
<circle cx="569.61" cy="89.7" r="1.25" fill="#000"/>
<circle cx="570.68" cy="89.7" r="1.25" fill="#000"/>
<circle cx="571.49" cy="89.7" r="1.25" fill="#000"/>
<circle cx="572.18" cy="89.7" r="1.25" fill="#000"/>
<circle cx="563.83" cy="90.6" r="1.25" fill="#000"/>
<circle cx="564.85" cy="90.6" r="1.25" fill="#000"/>
<circle cx="565.77" cy="90.6" r="1.25" fill="#000"/>
<circle cx="566.53" cy="90.6" r="1.25" fill="#000"/>
<circle cx="567.57" cy="90.6" r="1.25" fill="#000"/>
<circle cx="568.23" cy="90.6" r="1.25" fill="#000"/>
<circle cx="569.56" cy="90.6" r="1.25" fill="#000"/>
<circle cx="570.36" cy="90.6" r="1.25" fill="#000"/>
<circle cx="571.14" cy="90.6" r="1.25" fill="#000"/>
<circle cx="571.97" cy="90.6" r="1.25" fill="#000"/>
<circle cx="573.4" cy="90.6" r="1.25" fill="#000"/>
<circle cx="563.09" cy="91.5" r="1.25" fill="#000"/>
<circle cx="563.49" cy="91.5" r="1.25" fill="#000"/>
<circle cx="564.85" cy="91.5" r="1.25" fill="#000"/>
<circle cx="565.55" cy="91.5" r="1.25" fill="#000"/>
<circle cx="566.32" cy="91.5" r="1.25" fill="#000"/>
<circle cx="567.34" cy="91.5" r="1.25" fill="#000"/>
<circle cx="568.56" cy="91.5" r="1.25" fill="#000"/>
<circle cx="569.56" cy="91.5" r="1.25" fill="#000"/>
<circle cx="569.99" cy="91.5" r="1.25" fill="#000"/>
<circle cx="571.27" cy="91.5" r="1.25" fill="#000"/>
<circle cx="571.86" cy="91.5" r="1.25" fill="#000"/>
<circle cx="573.2" cy="91.5" r="1.25" fill="#000"/>
<circle cx="573.9" cy="91.5" r="1.25" fill="#000"/>
<circle cx="563.39" cy="92.4" r="1.25" fill="#000"/>
<circle cx="564.5" cy="92.4" r="1.25" fill="#000"/>
<circle cx="565.26" cy="92.4" r="1.25" fill="#000"/>
<circle cx="566.6" cy="92.4" r="1.25" fill="#000"/>
<circle cx="567.24" cy="92.4" r="1.25" fill="#000"/>
<circle cx="568.15" cy="92.4" r="1.25" fill="#000"/>
<circle cx="569.51" cy="92.4" r="1.25" fill="#000"/>
<circle cx="570.21" cy="92.4" r="1.25" fill="#000"/>
<circle cx="571.36" cy="92.4" r="1.25" fill="#000"/>
<circle cx="572.54" cy="92.4" r="1.25" fill="#000"/>
<circle cx="573.71" cy="92.4" r="1.25" fill="#000"/>
<circle cx="563.59" cy="93.3" r="1.25" fill="#000"/>
<circle cx="564.45" cy="93.3" r="1.25" fill="#000"/>
<circle cx="565.86" cy="93.3" r="1.25" fill="#000"/>
<circle cx="566.45" cy="93.3" r="1.25" fill="#000"/>
<circle cx="567.76" cy="93.3" r="1.25" fill="#000"/>
<circle cx="568.64" cy="93.3" r="1.25" fill="#000"/>
<circle cx="569.25" cy="93.3" r="1.25" fill="#000"/>
<circle cx="570.22" cy="93.3" r="1.25" fill="#000"/>
<circle cx="571.17" cy="93.3" r="1.25" fill="#000"/>
<circle cx="572.17" cy="93.3" r="1.25" fill="#000"/>
<circle cx="573.06" cy="93.3" r="1.25" fill="#000"/>
<circle cx="565.04" cy="94.2" r="1.25" fill="#000"/>
<circle cx="566.21" cy="94.2" r="1.25" fill="#000"/>
<circle cx="567.53" cy="94.2" r="1.25" fill="#000"/>
<circle cx="568.4" cy="94.2" r="1.25" fill="#000"/>
<circle cx="569.49" cy="94.2" r="1.25" fill="#000"/>
<circle cx="570.8" cy="94.2" r="1.25" fill="#000"/>
<circle cx="571.64" cy="94.2" r="1.25" fill="#000"/>
<circle cx="566.41" cy="95.1" r="1.25" fill="#000"/>
<circle cx="567.75" cy="95.1" r="1.25" fill="#000"/>
<circle cx="568.41" cy="95.1" r="1.25" fill="#000"/>
<circle cx="569.37" cy="95.1" r="1.25" fill="#000"/>
<circle cx="569.98" cy="95.1" r="1.25" fill="#000"/>
<circle cx="568.3" cy="74.3" r="1.2" fill="#000"/>
<circle cx="560.6" cy="91.8" r="1.2" fill="#000"/>
<circle cx="576" cy="91.8" r="1.2" fill="#000"/>
<rect x="590.66" y="29.36" width="1.7" height="1.7" fill="#111"/>
<rect x="590.66" y="43.04" width="1.7" height="1.7" fill="#111"/>
<rect x="590.66" y="52.92" width="1.7" height="1.7" fill="#111"/>
<rect x="590.66" y="58.36" width="1.7" height="1.7" fill="#111"/>
<rect x="590.33" y="65.28" width="1.7" height="1.7" fill="#111"/>
<rect x="589.01" y="67.42" width="1.7" height="1.7" fill="#111"/>
<rect x="591.65" y="67.42" width="1.7" height="1.7" fill="#111"/>
<rect x="591.15" y="71.04" width="1.7" height="1.7" fill="#111"/>
<rect x="587.03" y="73.52" width="1.7" height="1.7" fill="#111"/>
<rect x="589.51" y="74.34" width="1.7" height="1.7" fill="#111"/>
<rect x="592.8" y="73.52" width="1.7" height="1.7" fill="#111"/>
<rect x="594.45" y="75.16" width="1.7" height="1.7" fill="#111"/>
<rect x="591.15" y="76.81" width="1.7" height="1.7" fill="#111"/>
<rect x="593.62" y="77.63" width="1.7" height="1.7" fill="#111"/>
<rect x="588.68" y="82.58" width="1.7" height="1.7" fill="#111"/>
<rect x="591.98" y="82.58" width="1.7" height="1.7" fill="#111"/>
<rect x="587.03" y="86.7" width="1.7" height="1.7" fill="#111"/>
<rect x="589.51" y="87.02" width="1.7" height="1.7" fill="#111"/>
<rect x="591.98" y="86.7" width="1.7" height="1.7" fill="#111"/>
<rect x="594.45" y="86.7" width="1.7" height="1.7" fill="#111"/>
<rect x="587.03" y="90.81" width="1.7" height="1.7" fill="#111"/>
<rect x="589.51" y="91.31" width="1.7" height="1.7" fill="#111"/>
<rect x="592.8" y="90.81" width="1.7" height="1.7" fill="#111"/>
<rect x="594.94" y="91.14" width="1.7" height="1.7" fill="#111"/>
<rect x="587.86" y="93.29" width="1.7" height="1.7" fill="#111"/>
<rect x="590.33" y="94.11" width="1.7" height="1.7" fill="#111"/>
<rect x="592.8" y="93.29" width="1.7" height="1.7" fill="#111"/>
<line x1="588.5" y1="75.2" x2="594.5" y2="75.2" stroke="#222" stroke-width="0.8"/>
<line x1="591.6" y1="75.2" x2="591.6" y2="80" stroke="#222" stroke-width="0.8"/>
<line x1="568" y1="25.6" x2="591.5" y2="25.6" stroke="#222" stroke-width="0.9"/>
<text x="579.8" y="25.2" font-size="9.2" text-anchor="middle" textLength="14.2" lengthAdjust="spacingAndGlyphs" class="s">****</text>
<line x1="626.4" y1="16" x2="626.4" y2="97.8" stroke="#222" stroke-width="0.9"/>
<line x1="626" y1="97.4" x2="680" y2="97.4" stroke="#222" stroke-width="0.9"/>
<line x1="623.3" y1="97.4" x2="626.4" y2="97.4" stroke="#222" stroke-width="0.8"/>
<text x="622.4" y="99.7" font-size="6.6" text-anchor="end" textLength="3.8" lengthAdjust="spacingAndGlyphs" class="s">3</text>
<line x1="623.3" y1="81.15" x2="626.4" y2="81.15" stroke="#222" stroke-width="0.8"/>
<text x="622.4" y="83.45" font-size="6.6" text-anchor="end" textLength="3.8" lengthAdjust="spacingAndGlyphs" class="s">4</text>
<line x1="623.3" y1="64.9" x2="626.4" y2="64.9" stroke="#222" stroke-width="0.8"/>
<text x="622.4" y="67.2" font-size="6.6" text-anchor="end" textLength="3.8" lengthAdjust="spacingAndGlyphs" class="s">5</text>
<line x1="623.3" y1="48.65" x2="626.4" y2="48.65" stroke="#222" stroke-width="0.8"/>
<text x="622.4" y="50.95" font-size="6.6" text-anchor="end" textLength="3.8" lengthAdjust="spacingAndGlyphs" class="s">6</text>
<line x1="623.3" y1="32.4" x2="626.4" y2="32.4" stroke="#222" stroke-width="0.8"/>
<text x="622.4" y="34.7" font-size="6.6" text-anchor="end" textLength="3.8" lengthAdjust="spacingAndGlyphs" class="s">7</text>
<line x1="623.3" y1="16.15" x2="626.4" y2="16.15" stroke="#222" stroke-width="0.8"/>
<text x="622.4" y="18.45" font-size="6.6" text-anchor="end" textLength="3.8" lengthAdjust="spacingAndGlyphs" class="s">8</text>
<text x="614.4" y="50" font-size="9.6" text-anchor="middle" textLength="56.5" lengthAdjust="spacingAndGlyphs" transform="rotate(-90 614.4 50)">Shannon index</text>
<rect x="634.1" y="80.83" width="14.5" height="16.57" fill="#fff" stroke="#222" stroke-width="0.8"/>
<rect x="657.3" y="64.9" width="14.9" height="32.5" fill="#fff" stroke="#222" stroke-width="0.8"/>
<circle cx="641.34" cy="60" r="1.2" fill="#000"/>
<circle cx="641.46" cy="60" r="1.2" fill="#000"/>
<circle cx="641.06" cy="60" r="1.2" fill="#000"/>
<circle cx="641.42" cy="60.9" r="1.2" fill="#000"/>
<circle cx="641.49" cy="60.9" r="1.2" fill="#000"/>
<circle cx="641.15" cy="60.9" r="1.2" fill="#000"/>
<circle cx="641.37" cy="61.8" r="1.2" fill="#000"/>
<circle cx="641.38" cy="61.8" r="1.2" fill="#000"/>
<circle cx="641.65" cy="61.8" r="1.2" fill="#000"/>
<circle cx="641.12" cy="62.7" r="1.2" fill="#000"/>
<circle cx="641.54" cy="62.7" r="1.2" fill="#000"/>
<circle cx="641.75" cy="62.7" r="1.2" fill="#000"/>
<circle cx="640.73" cy="63.6" r="1.2" fill="#000"/>
<circle cx="641.09" cy="63.6" r="1.2" fill="#000"/>
<circle cx="641.86" cy="63.6" r="1.2" fill="#000"/>
<circle cx="641.17" cy="64.5" r="1.2" fill="#000"/>
<circle cx="641.23" cy="64.5" r="1.2" fill="#000"/>
<circle cx="641.92" cy="64.5" r="1.2" fill="#000"/>
<circle cx="640.7" cy="65.4" r="1.2" fill="#000"/>
<circle cx="641.27" cy="65.4" r="1.2" fill="#000"/>
<circle cx="642.06" cy="65.4" r="1.2" fill="#000"/>
<circle cx="640.33" cy="66.3" r="1.2" fill="#000"/>
<circle cx="641.31" cy="66.3" r="1.2" fill="#000"/>
<circle cx="642.41" cy="66.3" r="1.2" fill="#000"/>
<circle cx="640.2" cy="67.2" r="1.2" fill="#000"/>
<circle cx="641.31" cy="67.2" r="1.2" fill="#000"/>
<circle cx="642.65" cy="67.2" r="1.2" fill="#000"/>
<circle cx="639.89" cy="68.1" r="1.2" fill="#000"/>
<circle cx="641.45" cy="68.1" r="1.2" fill="#000"/>
<circle cx="642.74" cy="68.1" r="1.2" fill="#000"/>
<circle cx="639.97" cy="69" r="1.2" fill="#000"/>
<circle cx="641.21" cy="69" r="1.2" fill="#000"/>
<circle cx="642.91" cy="69" r="1.2" fill="#000"/>
<circle cx="640.04" cy="69.9" r="1.2" fill="#000"/>
<circle cx="641.18" cy="69.9" r="1.2" fill="#000"/>
<circle cx="642.53" cy="69.9" r="1.2" fill="#000"/>
<circle cx="640.48" cy="70.8" r="1.2" fill="#000"/>
<circle cx="641.12" cy="70.8" r="1.2" fill="#000"/>
<circle cx="642.34" cy="70.8" r="1.2" fill="#000"/>
<circle cx="640.34" cy="71.7" r="1.2" fill="#000"/>
<circle cx="641.63" cy="71.7" r="1.2" fill="#000"/>
<circle cx="642.3" cy="71.7" r="1.2" fill="#000"/>
<circle cx="640.89" cy="72.6" r="1.2" fill="#000"/>
<circle cx="641.17" cy="72.6" r="1.2" fill="#000"/>
<circle cx="642.05" cy="72.6" r="1.2" fill="#000"/>
<circle cx="640.96" cy="73.5" r="1.2" fill="#000"/>
<circle cx="641.67" cy="73.5" r="1.2" fill="#000"/>
<circle cx="641.92" cy="73.5" r="1.2" fill="#000"/>
<circle cx="640.87" cy="74.4" r="1.2" fill="#000"/>
<circle cx="641.13" cy="74.4" r="1.2" fill="#000"/>
<circle cx="641.76" cy="74.4" r="1.2" fill="#000"/>
<circle cx="640.98" cy="75.3" r="1.2" fill="#000"/>
<circle cx="641.61" cy="75.3" r="1.2" fill="#000"/>
<circle cx="641.84" cy="75.3" r="1.2" fill="#000"/>
<circle cx="640.98" cy="76.2" r="1.2" fill="#000"/>
<circle cx="641.25" cy="76.2" r="1.2" fill="#000"/>
<circle cx="641.82" cy="76.2" r="1.2" fill="#000"/>
<circle cx="641.3" cy="77.1" r="1.2" fill="#000"/>
<circle cx="641.61" cy="77.1" r="1.2" fill="#000"/>
<circle cx="641.49" cy="77.1" r="1.2" fill="#000"/>
<circle cx="640.94" cy="78" r="1.2" fill="#000"/>
<circle cx="641.25" cy="78" r="1.2" fill="#000"/>
<circle cx="641.81" cy="78" r="1.2" fill="#000"/>
<circle cx="641.04" cy="78.9" r="1.2" fill="#000"/>
<circle cx="641.29" cy="78.9" r="1.2" fill="#000"/>
<circle cx="641.54" cy="78.9" r="1.2" fill="#000"/>
<circle cx="640.8" cy="79.8" r="1.2" fill="#000"/>
<circle cx="641.34" cy="79.8" r="1.2" fill="#000"/>
<circle cx="642.24" cy="79.8" r="1.2" fill="#000"/>
<circle cx="640.22" cy="80.7" r="1.2" fill="#000"/>
<circle cx="641.05" cy="80.7" r="1.2" fill="#000"/>
<circle cx="642.65" cy="80.7" r="1.2" fill="#000"/>
<circle cx="640.34" cy="81.6" r="1.2" fill="#000"/>
<circle cx="641.74" cy="81.6" r="1.2" fill="#000"/>
<circle cx="642.68" cy="81.6" r="1.2" fill="#000"/>
<circle cx="638.88" cy="82.5" r="1.2" fill="#000"/>
<circle cx="639.81" cy="82.5" r="1.2" fill="#000"/>
<circle cx="640.26" cy="82.5" r="1.2" fill="#000"/>
<circle cx="641.57" cy="82.5" r="1.2" fill="#000"/>
<circle cx="642.58" cy="82.5" r="1.2" fill="#000"/>
<circle cx="643.4" cy="82.5" r="1.2" fill="#000"/>
<circle cx="644.25" cy="82.5" r="1.2" fill="#000"/>
<circle cx="636.02" cy="83.4" r="1.2" fill="#000"/>
<circle cx="637.1" cy="83.4" r="1.2" fill="#000"/>
<circle cx="638.07" cy="83.4" r="1.2" fill="#000"/>
<circle cx="639" cy="83.4" r="1.2" fill="#000"/>
<circle cx="640.42" cy="83.4" r="1.2" fill="#000"/>
<circle cx="641.25" cy="83.4" r="1.2" fill="#000"/>
<circle cx="642.66" cy="83.4" r="1.2" fill="#000"/>
<circle cx="643.17" cy="83.4" r="1.2" fill="#000"/>
<circle cx="644.82" cy="83.4" r="1.2" fill="#000"/>
<circle cx="645.72" cy="83.4" r="1.2" fill="#000"/>
<circle cx="646.93" cy="83.4" r="1.2" fill="#000"/>
<circle cx="635.82" cy="84.3" r="1.2" fill="#000"/>
<circle cx="636.8" cy="84.3" r="1.2" fill="#000"/>
<circle cx="637.55" cy="84.3" r="1.2" fill="#000"/>
<circle cx="638.13" cy="84.3" r="1.2" fill="#000"/>
<circle cx="639.62" cy="84.3" r="1.2" fill="#000"/>
<circle cx="640.19" cy="84.3" r="1.2" fill="#000"/>
<circle cx="641.26" cy="84.3" r="1.2" fill="#000"/>
<circle cx="642.49" cy="84.3" r="1.2" fill="#000"/>
<circle cx="643.37" cy="84.3" r="1.2" fill="#000"/>
<circle cx="644.27" cy="84.3" r="1.2" fill="#000"/>
<circle cx="645.61" cy="84.3" r="1.2" fill="#000"/>
<circle cx="646.36" cy="84.3" r="1.2" fill="#000"/>
<circle cx="647.15" cy="84.3" r="1.2" fill="#000"/>
<circle cx="634.96" cy="85.2" r="1.2" fill="#000"/>
<circle cx="636.43" cy="85.2" r="1.2" fill="#000"/>
<circle cx="637.21" cy="85.2" r="1.2" fill="#000"/>
<circle cx="638.47" cy="85.2" r="1.2" fill="#000"/>
<circle cx="639.21" cy="85.2" r="1.2" fill="#000"/>
<circle cx="640.14" cy="85.2" r="1.2" fill="#000"/>
<circle cx="641.42" cy="85.2" r="1.2" fill="#000"/>
<circle cx="642.67" cy="85.2" r="1.2" fill="#000"/>
<circle cx="643.26" cy="85.2" r="1.2" fill="#000"/>
<circle cx="644.74" cy="85.2" r="1.2" fill="#000"/>
<circle cx="645.87" cy="85.2" r="1.2" fill="#000"/>
<circle cx="646.84" cy="85.2" r="1.2" fill="#000"/>
<circle cx="647.89" cy="85.2" r="1.2" fill="#000"/>
<circle cx="635.62" cy="86.1" r="1.2" fill="#000"/>
<circle cx="636.96" cy="86.1" r="1.2" fill="#000"/>
<circle cx="638.03" cy="86.1" r="1.2" fill="#000"/>
<circle cx="638.36" cy="86.1" r="1.2" fill="#000"/>
<circle cx="639.43" cy="86.1" r="1.2" fill="#000"/>
<circle cx="640.33" cy="86.1" r="1.2" fill="#000"/>
<circle cx="641.42" cy="86.1" r="1.2" fill="#000"/>
<circle cx="642.25" cy="86.1" r="1.2" fill="#000"/>
<circle cx="643.19" cy="86.1" r="1.2" fill="#000"/>
<circle cx="644.31" cy="86.1" r="1.2" fill="#000"/>
<circle cx="644.68" cy="86.1" r="1.2" fill="#000"/>
<circle cx="645.62" cy="86.1" r="1.2" fill="#000"/>
<circle cx="646.58" cy="86.1" r="1.2" fill="#000"/>
<circle cx="637.14" cy="87" r="1.2" fill="#000"/>
<circle cx="638.1" cy="87" r="1.2" fill="#000"/>
<circle cx="639.73" cy="87" r="1.2" fill="#000"/>
<circle cx="640.65" cy="87" r="1.2" fill="#000"/>
<circle cx="641.11" cy="87" r="1.2" fill="#000"/>
<circle cx="642.4" cy="87" r="1.2" fill="#000"/>
<circle cx="643.27" cy="87" r="1.2" fill="#000"/>
<circle cx="644.27" cy="87" r="1.2" fill="#000"/>
<circle cx="645.3" cy="87" r="1.2" fill="#000"/>
<circle cx="639.75" cy="87.9" r="1.2" fill="#000"/>
<circle cx="641.46" cy="87.9" r="1.2" fill="#000"/>
<circle cx="643.05" cy="87.9" r="1.2" fill="#000"/>
<circle cx="641.4" cy="57.9" r="1.1" fill="#000"/>
<circle cx="640.9" cy="91.8" r="1.2" fill="#000"/>
<line x1="637.8" y1="79" x2="645" y2="79" stroke="#222" stroke-width="0.8"/>
<rect x="663.51" y="28.21" width="1.7" height="1.7" fill="#111"/>
<rect x="663.51" y="30.68" width="1.7" height="1.7" fill="#111"/>
<rect x="663.51" y="32.66" width="1.7" height="1.7" fill="#111"/>
<rect x="663.51" y="34.8" width="1.7" height="1.7" fill="#111"/>
<rect x="663.51" y="40.9" width="1.7" height="1.7" fill="#111"/>
<rect x="668.94" y="46.83" width="1.7" height="1.7" fill="#111"/>
<rect x="661.86" y="48.47" width="1.7" height="1.7" fill="#111"/>
<rect x="665.65" y="48.47" width="1.7" height="1.7" fill="#111"/>
<rect x="662.68" y="51.28" width="1.7" height="1.7" fill="#111"/>
<rect x="665.98" y="52.1" width="1.7" height="1.7" fill="#111"/>
<rect x="658.56" y="56.71" width="1.7" height="1.7" fill="#111"/>
<rect x="658.56" y="58.36" width="1.7" height="1.7" fill="#111"/>
<rect x="661.86" y="56.22" width="1.7" height="1.7" fill="#111"/>
<rect x="662.35" y="58.69" width="1.7" height="1.7" fill="#111"/>
<rect x="661.86" y="60.01" width="1.7" height="1.7" fill="#111"/>
<rect x="665.15" y="60.01" width="1.7" height="1.7" fill="#111"/>
<rect x="663.51" y="62.31" width="1.7" height="1.7" fill="#111"/>
<rect x="661.03" y="66.93" width="1.7" height="1.7" fill="#111"/>
<rect x="663.51" y="67.75" width="1.7" height="1.7" fill="#111"/>
<rect x="665.98" y="67.26" width="1.7" height="1.7" fill="#111"/>
<rect x="662.68" y="71.04" width="1.7" height="1.7" fill="#111"/>
<rect x="665.15" y="71.54" width="1.7" height="1.7" fill="#111"/>
<rect x="661.86" y="74.34" width="1.7" height="1.7" fill="#111"/>
<rect x="665.15" y="75.16" width="1.7" height="1.7" fill="#111"/>
<rect x="663.51" y="77.63" width="1.7" height="1.7" fill="#111"/>
<rect x="659.39" y="80.93" width="1.7" height="1.7" fill="#111"/>
<rect x="661.86" y="81.42" width="1.7" height="1.7" fill="#111"/>
<rect x="664.33" y="81.42" width="1.7" height="1.7" fill="#111"/>
<rect x="667.62" y="81.42" width="1.7" height="1.7" fill="#111"/>
<rect x="668.94" y="81.42" width="1.7" height="1.7" fill="#111"/>
<rect x="662.68" y="84.22" width="1.7" height="1.7" fill="#111"/>
<rect x="663.51" y="85.05" width="1.7" height="1.7" fill="#111"/>
<rect x="662.68" y="87.52" width="1.7" height="1.7" fill="#111"/>
<rect x="664.33" y="88.01" width="1.7" height="1.7" fill="#111"/>
<rect x="661.86" y="92.96" width="1.7" height="1.7" fill="#111"/>
<rect x="665.65" y="92.96" width="1.7" height="1.7" fill="#111"/>
<line x1="641" y1="23" x2="664.8" y2="23" stroke="#222" stroke-width="0.9"/>
<text x="652.5" y="22.6" font-size="9.2" text-anchor="middle" textLength="14.2" lengthAdjust="spacingAndGlyphs" class="s">****</text>
<text x="569.5" y="108.2" font-size="8" text-anchor="end" textLength="42" lengthAdjust="spacingAndGlyphs" class="s" transform="rotate(-45 569.5 108.2)">Lactobacillus</text>
<text x="593" y="107.6" font-size="8" text-anchor="end" textLength="42.5" lengthAdjust="spacingAndGlyphs" class="s" transform="rotate(-45 593 107.6)">Other genera</text>
<text x="641.6" y="107" font-size="8" text-anchor="end" textLength="42" lengthAdjust="spacingAndGlyphs" class="s" transform="rotate(-45 641.6 107)">Lactobacillus</text>
<text x="667.4" y="105.6" font-size="8" text-anchor="end" textLength="42.5" lengthAdjust="spacingAndGlyphs" class="s" transform="rotate(-45 667.4 105.6)">Other genera</text>
<line x1="575.7" y1="159.8" x2="575.7" y2="266.6" stroke="#333" stroke-width="1.4"/>
<line x1="575" y1="266" x2="672.6" y2="266" stroke="#333" stroke-width="1.4"/>
<line x1="580.6" y1="266" x2="580.6" y2="267.4" stroke="#333" stroke-width="0.7"/>
<line x1="609.5" y1="266" x2="609.5" y2="267.4" stroke="#333" stroke-width="0.7"/>
<line x1="638.6" y1="266" x2="638.6" y2="267.4" stroke="#333" stroke-width="0.7"/>
<line x1="667.9" y1="266" x2="667.9" y2="267.4" stroke="#333" stroke-width="0.7"/>
<text x="571.5" y="263.1" font-size="8.6" text-anchor="end" textLength="4.75" lengthAdjust="spacingAndGlyphs" class="s">0</text>
<text x="571.5" y="243.7" font-size="8.6" text-anchor="end" textLength="9.5" lengthAdjust="spacingAndGlyphs" class="s">20</text>
<text x="571.5" y="224.3" font-size="8.6" text-anchor="end" textLength="9.5" lengthAdjust="spacingAndGlyphs" class="s">40</text>
<text x="571.5" y="204.9" font-size="8.6" text-anchor="end" textLength="9.5" lengthAdjust="spacingAndGlyphs" class="s">60</text>
<text x="571.5" y="185.5" font-size="8.6" text-anchor="end" textLength="9.5" lengthAdjust="spacingAndGlyphs" class="s">80</text>
<text x="571.5" y="166.1" font-size="8.6" text-anchor="end" textLength="14.25" lengthAdjust="spacingAndGlyphs" class="s">100</text>
<text class="s" x="555.2" y="212.5" font-size="7.1" text-anchor="middle" transform="rotate(-90 555.2 212.5)" textLength="123" lengthAdjust="spacingAndGlyphs">Relative abundance of <tspan font-style="italic">Lactobacillus</tspan> (%)</text>
<polyline points="580.6,201.43 609.5,217.92 638.6,220.25 667.9,248.57" fill="none" stroke="#ec2a2f" stroke-width="1" stroke-linejoin="round"/>
<polyline points="580.6,208.71 609.5,206.47 638.6,215.98 667.9,215.4" fill="none" stroke="#ec2a2f" stroke-width="1" stroke-linejoin="round"/>
<polyline points="580.6,231.11 609.5,219.08 638.6,233.34 667.9,222.38" fill="none" stroke="#ec2a2f" stroke-width="1" stroke-linejoin="round"/>
<polyline points="580.6,260.6 609.5,163.6 638.6,163.6 667.9,163.6" fill="none" stroke="#1ea55a" stroke-width="1" stroke-linejoin="round"/>
<polyline points="580.6,206.28 609.5,222.77 638.6,163.6 667.9,163.6" fill="none" stroke="#1ea55a" stroke-width="1" stroke-linejoin="round"/>
<polyline points="580.6,224.71 609.5,215.98 638.6,163.6 667.9,163.6" fill="none" stroke="#1ea55a" stroke-width="1" stroke-linejoin="round"/>
<polyline points="580.6,235.38 609.5,216.95 638.6,183 667.9,163.6" fill="none" stroke="#1ea55a" stroke-width="1" stroke-linejoin="round"/>
<polyline points="580.6,259.63 609.5,236.35 638.6,205.31 667.9,187.85" fill="none" stroke="#1ea55a" stroke-width="1" stroke-linejoin="round"/>
<polyline points="580.6,260.6 609.5,260.6 638.6,180.09 667.9,188.82" fill="none" stroke="#1ea55a" stroke-width="1" stroke-linejoin="round"/>
<polyline points="580.6,260.6 609.5,259.15 638.6,259.63 667.9,163.6" fill="none" stroke="#1ea55a" stroke-width="1" stroke-linejoin="round"/>
<polyline points="580.6,260.6 609.5,260.6 638.6,260.6 667.9,259.63" fill="none" stroke="#ec2a2f" stroke-width="2.2" stroke-linejoin="round"/>
<polyline points="580.6,174.27 609.5,165.54 638.6,163.6 667.9,163.6" fill="none" stroke="#252c6e" stroke-width="1" stroke-linejoin="round"/>
<polyline points="580.6,163.6 609.5,168.45 638.6,174.27" fill="none" stroke="#252c6e" stroke-width="1" stroke-linejoin="round"/>
<polyline points="580.6,163.6 609.5,166.51 638.6,166.51 667.9,179.12" fill="none" stroke="#252c6e" stroke-width="1" stroke-linejoin="round"/>
<polyline points="580.6,163.6 609.5,170.39 638.6,173.3 667.9,185.91" fill="none" stroke="#252c6e" stroke-width="1" stroke-linejoin="round"/>
<polyline points="580.6,163.6 609.5,163.6 638.6,165.54 667.9,177.18" fill="none" stroke="#252c6e" stroke-width="1" stroke-linejoin="round"/>
<polyline points="580.6,163.6 609.5,163.6 638.6,163.6 667.9,163.6" fill="none" stroke="#252c6e" stroke-width="2.4" stroke-linejoin="round"/>
<polyline points="638.6,167.48 667.9,163.6" fill="none" stroke="#1ea55a" stroke-width="1" stroke-linejoin="round"/>
<text x="585.5" y="275" font-size="8.2" text-anchor="end" textLength="30" lengthAdjust="spacingAndGlyphs" class="s" transform="rotate(-45 585.5 275)">Week 12</text>
<text x="613.5" y="275" font-size="8.2" text-anchor="end" textLength="30" lengthAdjust="spacingAndGlyphs" class="s" transform="rotate(-45 613.5 275)">Week 20</text>
<text x="643" y="275" font-size="8.2" text-anchor="end" textLength="30" lengthAdjust="spacingAndGlyphs" class="s" transform="rotate(-45 643 275)">Week 30</text>
<text x="671.3" y="275" font-size="8.2" text-anchor="end" textLength="30" lengthAdjust="spacingAndGlyphs" class="s" transform="rotate(-45 671.3 275)">Week 36</text>
<line x1="61.8" y1="332" x2="61.8" y2="436.4" stroke="#8a8a8a" stroke-width="1.2"/>
<line x1="61.6" y1="436.2" x2="107.6" y2="436.2" stroke="#111" stroke-width="1"/>
<text x="58.4" y="437.4" font-size="6.9" text-anchor="end" textLength="3.6" lengthAdjust="spacingAndGlyphs" class="s">0</text>
<text x="58.4" y="411.3" font-size="6.9" text-anchor="end" textLength="7.2" lengthAdjust="spacingAndGlyphs" class="s">25</text>
<text x="58.4" y="385.2" font-size="6.9" text-anchor="end" textLength="7.2" lengthAdjust="spacingAndGlyphs" class="s">50</text>
<text x="58.4" y="359.1" font-size="6.9" text-anchor="end" textLength="7.2" lengthAdjust="spacingAndGlyphs" class="s">75</text>
<text x="58.4" y="333" font-size="6.9" text-anchor="end" textLength="10.8" lengthAdjust="spacingAndGlyphs" class="s">100</text>
<rect x="65.2" y="339.9" width="18.7" height="96" fill="#323868"/>
<rect x="86.2" y="383.85" width="18.7" height="52.05" fill="#802328"/>
<line x1="422.5" y1="332.9" x2="422.5" y2="439.5" stroke="#555" stroke-width="1.2"/>
<line x1="422.3" y1="439.3" x2="471.7" y2="439.3" stroke="#111" stroke-width="1"/>
<text x="418.1" y="440.5" font-size="6.9" text-anchor="end" textLength="3.6" lengthAdjust="spacingAndGlyphs" class="s">0</text>
<text x="418.1" y="413.55" font-size="6.9" text-anchor="end" textLength="7.2" lengthAdjust="spacingAndGlyphs" class="s">25</text>
<text x="418.1" y="386.6" font-size="6.9" text-anchor="end" textLength="7.2" lengthAdjust="spacingAndGlyphs" class="s">50</text>
<text x="418.1" y="359.65" font-size="6.9" text-anchor="end" textLength="7.2" lengthAdjust="spacingAndGlyphs" class="s">75</text>
<text x="418.1" y="332.7" font-size="6.9" text-anchor="end" textLength="10.8" lengthAdjust="spacingAndGlyphs" class="s">100</text>
<rect x="425.8" y="351.01" width="20.4" height="87.99" fill="#323868"/>
<rect x="448" y="348.96" width="20.4" height="90.04" fill="#802328"/>
<line x1="75" y1="336.2" x2="95.6" y2="336.2" stroke="#111" stroke-width="0.8"/>
<text x="85.4" y="337.2" font-size="9.5" text-anchor="middle" class="s">*</text>
<text x="42.4" y="382" font-size="8.6" text-anchor="middle" textLength="126" lengthAdjust="spacingAndGlyphs" class="s" transform="rotate(-90 42.4 382)">Rate of over 38wks of pregnancy (%)</text>
<text x="403.2" y="383.6" font-size="8.6" text-anchor="middle" textLength="131" lengthAdjust="spacingAndGlyphs" class="s" transform="rotate(-90 403.2 383.6)">Rate of over 38wks of pregnancy (%)</text>
<text x="78.6" y="443.5" font-size="9.2" font-style="italic" text-anchor="end" textLength="53" lengthAdjust="spacingAndGlyphs" class="s" transform="rotate(-45 78.6 443.5)">Lactobacillus</text>
<text x="98.8" y="444.3" font-size="9.2" text-anchor="end" textLength="53.5" lengthAdjust="spacingAndGlyphs" class="s" transform="rotate(-45 98.8 444.3)">Other genera</text>
<text x="438.6" y="449.2" font-size="9.2" font-style="italic" text-anchor="end" textLength="52" lengthAdjust="spacingAndGlyphs" class="s" transform="rotate(-45 438.6 449.2)">Lactobacillus</text>
<text x="462.6" y="449.2" font-size="9.2" text-anchor="end" textLength="52.5" lengthAdjust="spacingAndGlyphs" class="s" transform="rotate(-45 462.6 449.2)">Other genera</text>
<line x1="161.5" y1="350" x2="161.5" y2="432" stroke="#1a1a1a" stroke-width="1.25"/>
<line x1="158" y1="431.5" x2="284.7" y2="431.5" stroke="#1a1a1a" stroke-width="1.1"/>
<line x1="158.3" y1="431.5" x2="161.5" y2="431.5" stroke="#111" stroke-width="0.9"/>
<text x="157.4" y="434.7" font-size="9" text-anchor="end" textLength="4.3" lengthAdjust="spacingAndGlyphs" class="s">0</text>
<line x1="158.3" y1="411.25" x2="161.5" y2="411.25" stroke="#111" stroke-width="0.9"/>
<text x="157.4" y="414.45" font-size="9" text-anchor="end" textLength="8.6" lengthAdjust="spacingAndGlyphs" class="s">25</text>
<line x1="158.3" y1="391" x2="161.5" y2="391" stroke="#111" stroke-width="0.9"/>
<text x="157.4" y="394.2" font-size="9" text-anchor="end" textLength="8.6" lengthAdjust="spacingAndGlyphs" class="s">50</text>
<line x1="158.3" y1="370.75" x2="161.5" y2="370.75" stroke="#111" stroke-width="0.9"/>
<text x="157.4" y="373.95" font-size="9" text-anchor="end" textLength="8.6" lengthAdjust="spacingAndGlyphs" class="s">75</text>
<line x1="158.3" y1="350.5" x2="161.5" y2="350.5" stroke="#111" stroke-width="0.9"/>
<text x="157.4" y="353.7" font-size="9" text-anchor="end" textLength="12.9" lengthAdjust="spacingAndGlyphs" class="s">100</text>
<line x1="161.5" y1="431" x2="161.5" y2="434.5" stroke="#1a1a1a" stroke-width="1"/>
<text x="162.4" y="441.9" font-size="8.8" text-anchor="middle" textLength="9" lengthAdjust="spacingAndGlyphs" class="s">35</text>
<line x1="202.4" y1="431" x2="202.4" y2="434.5" stroke="#1a1a1a" stroke-width="1"/>
<text x="203.3" y="441.9" font-size="8.8" text-anchor="middle" textLength="9" lengthAdjust="spacingAndGlyphs" class="s">36</text>
<line x1="243.3" y1="431" x2="243.3" y2="434.5" stroke="#1a1a1a" stroke-width="1"/>
<text x="244.2" y="441.9" font-size="8.8" text-anchor="middle" textLength="9" lengthAdjust="spacingAndGlyphs" class="s">37</text>
<line x1="284.2" y1="431" x2="284.2" y2="434.5" stroke="#1a1a1a" stroke-width="1"/>
<text x="285.1" y="441.9" font-size="8.8" text-anchor="middle" textLength="9" lengthAdjust="spacingAndGlyphs" class="s">38</text>
<polyline points="161.5,350.5 190.5,350.5 190.5,358.5 213.5,358.5 213.5,366.5 248.5,366.5 248.5,374.5 260.5,374.5 260.5,383.5 277.5,383.5 277.5,391.5 283.5,391.5" fill="none" stroke="#ef5046" stroke-width="1.1"/>
<polyline points="161.5,350.5 271.5,350.5 271.5,355.5 277.5,355.5 277.5,358.5 283.5,358.5" fill="none" stroke="#4470c2" stroke-width="1.1"/>
<text class="s" x="179.6" y="414.6" font-size="8.6" textLength="40.5" lengthAdjust="spacingAndGlyphs"><tspan font-style="italic">p</tspan> = 0.0025</text>
<text x="200" y="453.5" font-size="8.6" textLength="51.8" lengthAdjust="spacingAndGlyphs" class="s">Delivery weeks</text>
<line x1="118.2" y1="462.2" x2="127.2" y2="462.2" stroke="#4470c2" stroke-width="2.5" stroke-linecap="round"/>
<rect x="121.4" y="460.6" width="1.7" height="1.7" fill="#111"/>
<line x1="118.2" y1="474" x2="127.2" y2="474" stroke="#ea2a1e" stroke-width="2.5" stroke-linecap="round"/>
<rect x="121.4" y="472.4" width="1.7" height="1.7" fill="#111"/>
<text class="s" x="132.2" y="465.6" font-size="9.2" textLength="199.0" lengthAdjust="spacingAndGlyphs"><tspan font-style="italic">Lactobacillus</tspan>-dominant group at early pregnancy</text><text class="s" x="132.2" y="477.4" font-size="9.2" textLength="199.0" lengthAdjust="spacingAndGlyphs">Other genera-dominant group at early pregnancy</text>
<text class="s" x="141.2" y="381.4" font-size="8.6" text-anchor="middle" transform="rotate(-90 141.2 381.4)" textLength="128.0" lengthAdjust="spacingAndGlyphs">Continuation rate of pregnancy (%)</text>
<rect x="283" y="357.2" width="1.3" height="2.6" fill="#111"/>
<rect x="283" y="390.2" width="1.3" height="2.6" fill="#111"/>
<line x1="525.8" y1="355" x2="525.8" y2="436" stroke="#1a1a1a" stroke-width="1.25"/>
<line x1="522.3" y1="435.5" x2="647.8" y2="435.5" stroke="#1a1a1a" stroke-width="1.1"/>
<line x1="522.6" y1="435.5" x2="525.8" y2="435.5" stroke="#111" stroke-width="0.9"/>
<text x="521.7" y="438.7" font-size="9" text-anchor="end" textLength="4.3" lengthAdjust="spacingAndGlyphs" class="s">0</text>
<line x1="522.6" y1="415.5" x2="525.8" y2="415.5" stroke="#111" stroke-width="0.9"/>
<text x="521.7" y="418.7" font-size="9" text-anchor="end" textLength="8.6" lengthAdjust="spacingAndGlyphs" class="s">25</text>
<line x1="522.6" y1="395.5" x2="525.8" y2="395.5" stroke="#111" stroke-width="0.9"/>
<text x="521.7" y="398.7" font-size="9" text-anchor="end" textLength="8.6" lengthAdjust="spacingAndGlyphs" class="s">50</text>
<line x1="522.6" y1="375.5" x2="525.8" y2="375.5" stroke="#111" stroke-width="0.9"/>
<text x="521.7" y="378.7" font-size="9" text-anchor="end" textLength="8.6" lengthAdjust="spacingAndGlyphs" class="s">75</text>
<line x1="522.6" y1="355.5" x2="525.8" y2="355.5" stroke="#111" stroke-width="0.9"/>
<text x="521.7" y="358.7" font-size="9" text-anchor="end" textLength="12.9" lengthAdjust="spacingAndGlyphs" class="s">100</text>
<line x1="525.8" y1="435" x2="525.8" y2="438.5" stroke="#1a1a1a" stroke-width="1"/>
<text x="526.7" y="445.9" font-size="8.8" text-anchor="middle" textLength="9" lengthAdjust="spacingAndGlyphs" class="s">35</text>
<line x1="566.3" y1="435" x2="566.3" y2="438.5" stroke="#1a1a1a" stroke-width="1"/>
<text x="567.2" y="445.9" font-size="8.8" text-anchor="middle" textLength="9" lengthAdjust="spacingAndGlyphs" class="s">36</text>
<line x1="606.8" y1="435" x2="606.8" y2="438.5" stroke="#1a1a1a" stroke-width="1"/>
<text x="607.7" y="445.9" font-size="8.8" text-anchor="middle" textLength="9" lengthAdjust="spacingAndGlyphs" class="s">37</text>
<line x1="647.3" y1="435" x2="647.3" y2="438.5" stroke="#1a1a1a" stroke-width="1"/>
<text x="648.2" y="445.9" font-size="8.8" text-anchor="middle" textLength="9" lengthAdjust="spacingAndGlyphs" class="s">38</text>
<polyline points="525.8,355.5 623.5,355.5 623.5,368.5 646.5,368.5" fill="none" stroke="#ef5046" stroke-width="1.1"/>
<polyline points="525.8,355.5 554.5,355.5 554.5,357.5 577.5,357.5 577.5,360.5 611.5,360.5 611.5,362.5 634.5,362.5 634.5,367.5 640.5,367.5 640.5,372.5 646.5,372.5" fill="none" stroke="#4470c2" stroke-width="1.1"/>
<text class="s" x="547.2" y="418.8" font-size="8.6" textLength="27.8" lengthAdjust="spacingAndGlyphs"><tspan font-style="italic">p</tspan> = n.s.</text>
<text x="564.5" y="458.8" font-size="8.6" textLength="51.8" lengthAdjust="spacingAndGlyphs" class="s">Delivery weeks</text>
<line x1="477.6" y1="467.8" x2="486.6" y2="467.8" stroke="#4470c2" stroke-width="2.5" stroke-linecap="round"/>
<rect x="480.8" y="466.2" width="1.7" height="1.7" fill="#111"/>
<line x1="477.6" y1="477.9" x2="486.6" y2="477.9" stroke="#ea2a1e" stroke-width="2.5" stroke-linecap="round"/>
<rect x="480.8" y="476.3" width="1.7" height="1.7" fill="#111"/>
<text class="s" x="491.0" y="471.2" font-size="9.2" textLength="193.0" lengthAdjust="spacingAndGlyphs"><tspan font-style="italic">Lactobacillus</tspan>-dominant group at late pregnancy</text><text class="s" x="491.0" y="481.3" font-size="9.2" textLength="193.0" lengthAdjust="spacingAndGlyphs">Other genera-dominant group at late pregnancy</text>
<text class="s" x="506.0" y="384.2" font-size="8.6" text-anchor="middle" transform="rotate(-90 506.0 384.2)" textLength="130.0" lengthAdjust="spacingAndGlyphs">Continuation rate of pregnancy (%)</text>
<rect x="645.9" y="367.1" width="1.3" height="2.8" fill="#111"/>
<rect x="645.9" y="371.1" width="1.3" height="2.8" fill="#111"/>
</svg>
</body></html>
